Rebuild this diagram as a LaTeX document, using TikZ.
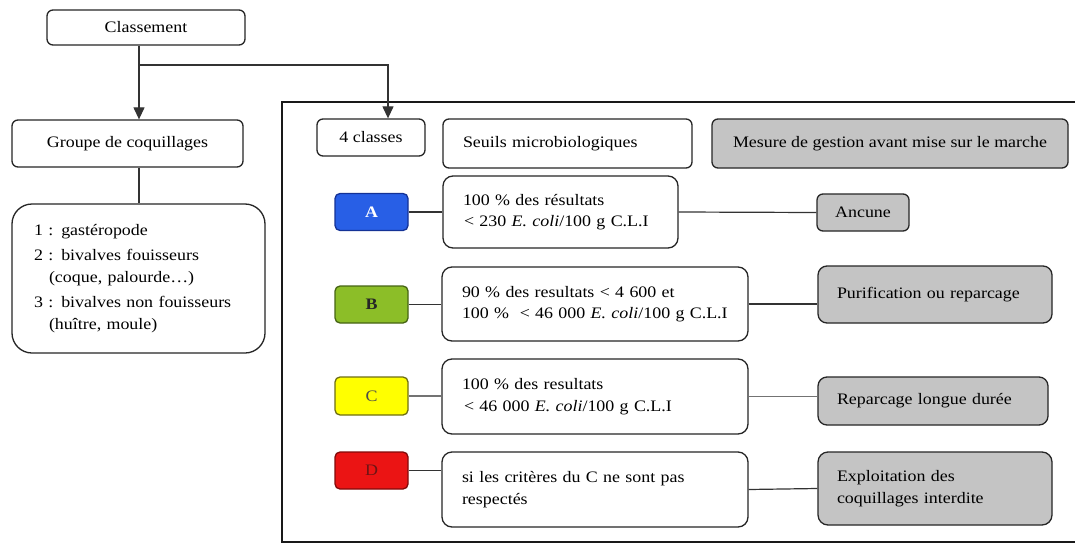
\documentclass[tikz,border=0pt]{standalone}
\usepackage{fontspec}
\setmainfont{Liberation Serif}[FakeStretch=1.12]
\usetikzlibrary{arrows.meta}
\definecolor{gfill}{RGB}{196,196,196}
\definecolor{afill}{RGB}{40,95,230}
\definecolor{adraw}{RGB}{20,50,150}
\definecolor{bfill}{RGB}{140,190,40}
\definecolor{bdraw}{RGB}{70,100,20}
\definecolor{cfill}{RGB}{255,255,0}
\definecolor{cdraw}{RGB}{110,110,20}
\definecolor{dfill}{RGB}{235,20,20}
\definecolor{ddraw}{RGB}{130,10,10}
\definecolor{dtext}{RGB}{110,20,20}
\begin{document}
\begin{tikzpicture}[x=1pt,y=-1pt,
  every node/.style={font=\fontsize{16}{21.5}\selectfont},
  wbox/.style={draw=black!85, line width=1.3pt, rounded corners=6pt, inner sep=0pt, fill=white},
  gbox/.style={wbox, fill=gfill},
  crit/.style={wbox, rounded corners=10pt, align=left, inner xsep=20pt},
  cls/.style={draw=#1, line width=1.3pt, rounded corners=5pt, inner sep=0pt, minimum width=73pt, minimum height=37pt},
  conn/.style={draw=black!80, line width=1.2pt},
  arr/.style={conn, -{Triangle[width=11pt,length=12pt]}}
]
\useasboundingbox (0,0) rectangle (1075,543);
\fill[white] (0,0) rectangle (1075,543);

% frame
\draw[black!90, line width=1.5pt] (1076,102) -- (282,102) -- (282,542) -- (1076,542);

% left part
\node[wbox, minimum width=198pt, minimum height=35pt] (cl) at (146,27.5) {Classement};
\node[wbox, minimum width=231pt, minimum height=47pt] (grp) at (127.5,143.5) {Groupe de coquillages};
\node[wbox, rounded corners=20pt, minimum width=253pt, minimum height=149pt, text width=209pt, align=left, inner xsep=22pt] (lst) at (138.5,278.5)
 {1 : gastéropode\\[4pt]
  2 : bivalves fouisseurs\\
  \hspace*{15pt}(coque, palourde…)\\[4pt]
  3 : bivalves non fouisseurs\\
  \hspace*{15pt}(huître, moule)};

% headers
\node[wbox, minimum width=108pt, minimum height=37pt] (c4) at (371,137.5) {4 classes};
\node[wbox, minimum width=249pt, minimum height=49pt, text width=209pt, align=left, inner xsep=20pt] (seu) at (567.5,143.5) {Seuils microbiologiques};
\node[gbox, minimum width=356pt, minimum height=49pt] (mes) at (890,143.5) {Mesure de gestion avant mise sur le marche};

% classes
\node[cls=adraw, fill=afill, text=white, font=\fontsize{16}{21.5}\selectfont\bfseries] (A) at (371.5,212) {A};
\node[cls=bdraw, fill=bfill, text=black!85, font=\fontsize{16}{21.5}\selectfont\bfseries] (B) at (371.5,304.5) {B};
\node[cls=cdraw, fill=cfill, text=black!70, minimum height=38pt] (C) at (371.5,396) {C};
\node[cls=ddraw, fill=dfill, text=dtext] (D) at (371.5,470.5) {D};

% criteria
\node[crit, minimum width=235pt, minimum height=72pt, text width=195pt] (ca) at (560.5,212)
 {100 \% des résultats\\\hspace*{1pt}< 230 \textit{E. coli}/100 g C.L.I};
\node[crit, minimum width=306pt, minimum height=74pt, text width=266pt] (cb) at (595,304)
 {90 \% des resultats < 4 600 et\\100 \%\ \ < 46 000 \textit{E. coli}/100 g C.L.I};
\node[crit, minimum width=306pt, minimum height=75pt, text width=266pt] (cc) at (595,396.5)
 {100 \% des resultats\\\hspace*{2pt}< 46 000 \textit{E. coli}/100 g C.L.I};
\node[crit, minimum width=306pt, minimum height=75pt, text width=266pt] (cd) at (595,489.5)
 {si les critères du C ne sont pas\\respectés};

% measures
\node[gbox, minimum width=92pt, minimum height=37pt] (ma) at (863,212.5) {Ancune};
\node[gbox, rounded corners=9pt, minimum width=234pt, minimum height=57pt, text width=196pt, align=left, inner xsep=19pt] (mb) at (935,294.5) {Purification ou reparcage};
\node[gbox, rounded corners=9pt, minimum width=230pt, minimum height=48pt, text width=192pt, align=left, inner xsep=19pt] (mc) at (933,401) {Reparcage longue durée};
\node[gbox, rounded corners=10pt, minimum width=234pt, minimum height=73pt, text width=196pt, align=left, inner xsep=19pt] (md) at (935,488.5) {Exploitation des\\coquillages interdite};

% top connectors
\coordinate (j) at (139,65);
\coordinate (k) at (388,65);
\draw[conn] (cl.south -| j) -- (j);
\draw[arr] (j) -- (j |- grp.north);
\draw[arr] (j) -- (k) -- (k |- c4.north);
\draw[conn] (grp.south -| j) -- (j |- lst.north);

% row connectors
\draw[conn] (A.east) -- (A.east -| ca.west);
\draw[conn] (ca.east) -- (ma.west);
\draw[conn] (B.east) -- (B.east -| cb.west);
\draw[conn] (cb.east) -- (cb.east -| mb.west);
\draw[conn, draw=black!55] (C.east) -- (C.east -| cc.west);
\draw[conn, draw=black!55] (cc.east) -- (cc.east -| mc.west);
\draw[conn] (D.east) -- (D.east -| cd.west);
\draw[conn] (cd.east) -- (md.west);
\end{tikzpicture}
\end{document}
